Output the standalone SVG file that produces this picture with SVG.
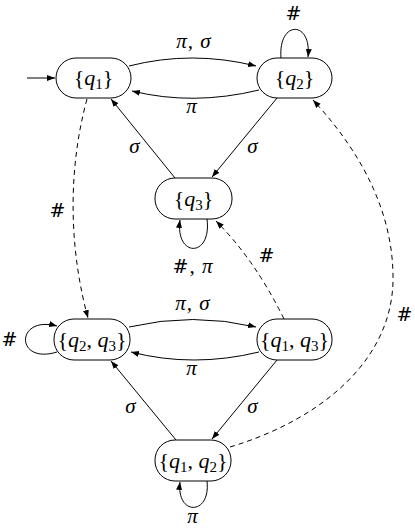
<svg xmlns="http://www.w3.org/2000/svg" width="415" height="528" viewBox="0 0 415 528">
<style>
.node rect{fill:#fff;stroke:#000;stroke-width:1}
.nt{font-family:"Liberation Serif","DejaVu Serif",serif;font-size:22px;text-anchor:middle;fill:#000}
.lb{font-family:"Liberation Serif","DejaVu Serif",serif;font-size:21px;text-anchor:middle;fill:#000;font-style:italic;letter-spacing:1px}
.h{font-family:"DejaVu Serif","Liberation Serif",serif;font-style:normal;font-size:19px}
.e{fill:none;stroke:#000;stroke-width:1;marker-end:url(#ah)}
.d{stroke-dasharray:5,4}
</style>
<defs>
<marker id="ah" markerUnits="userSpaceOnUse" markerWidth="9" markerHeight="7" refX="8" refY="3" orient="auto">
<path d="M0,0 L8,3 L0,6 z" fill="#000"/>
</marker>
</defs>
<g id="connectors">
<path class="e" d="M27,78 L55,78"/>
<path class="e" d="M129,66 Q192,50 256,66"/>
<path class="e" d="M259,90 Q193,106 132,91"/>
<path class="e" d="M281,58 C278,20 312,20 308,57"/>
<path class="e" d="M175,178 L111,99"/>
<path class="e" d="M277,98 L212,177"/>
<path class="e" d="M207,219 C212,258 175,258 180,220"/>
<path class="e d" d="M87,99 C65,180 72,260 88,318"/>
<path class="e d" d="M284,319 Q255,260 216,221"/>
<path class="e d" d="M230,447 C320,420 395,360 393,275 C392,200 350,140 313,100"/>
<path class="e" d="M129,327 Q193,312 256,327"/>
<path class="e" d="M259,352 Q193,368 131,352"/>
<path class="e" d="M57,352 C15,365 15,315 57,326"/>
<path class="e" d="M277,360 L212,439"/>
<path class="e" d="M176,440 L111,361"/>
<path class="e" d="M207,481 C211,516 176,516 180,482"/>
<text class="lb" x="194" y="48">π, σ</text>
<text class="lb" x="192" y="113">π</text>
<text class="lb h" x="294" y="20">#</text>
<text class="lb" x="135" y="153">σ</text>
<text class="lb" x="253" y="153">σ</text>
<text class="lb h" x="58" y="217">#</text>
<text class="lb" x="193" y="273"><tspan class="h">#</tspan>, π</text>
<text class="lb h" x="267" y="262">#</text>
<text class="lb h" x="405" y="321">#</text>
<text class="lb" x="193" y="310">π, σ</text>
<text class="lb" x="192" y="375">π</text>
<text class="lb h" x="10" y="346">#</text>
<text class="lb" x="131" y="413">σ</text>
<text class="lb" x="253" y="413">σ</text>
<text class="lb" x="193" y="523" font-size="19">π</text>
</g>
<g id="n_q1" class="node"><rect x="56" y="58" width="75" height="40" rx="20"/><text class="nt" x="93.5" y="85">{<tspan font-style="italic">q</tspan><tspan font-size="15" dy="4">1</tspan><tspan dy="-4">}</tspan></text></g>
<g id="n_q2" class="node"><rect x="257" y="58" width="75" height="40" rx="20"/><text class="nt" x="294.5" y="85">{<tspan font-style="italic">q</tspan><tspan font-size="15" dy="4">2</tspan><tspan dy="-4">}</tspan></text></g>
<g id="n_q3" class="node"><rect x="155" y="178" width="77" height="41" rx="20"/><text class="nt" x="193.5" y="206">{<tspan font-style="italic">q</tspan><tspan font-size="15" dy="4">3</tspan><tspan dy="-4">}</tspan></text></g>
<g id="n_q2q3" class="node"><rect x="54" y="319" width="76" height="41" rx="20"/><text class="nt" x="92" y="347">{<tspan font-style="italic">q</tspan><tspan font-size="15" dy="4">2</tspan><tspan dy="-4">, </tspan><tspan font-style="italic">q</tspan><tspan font-size="15" dy="4">3</tspan><tspan dy="-4">}</tspan></text></g>
<g id="n_q1q3" class="node"><rect x="257" y="319" width="75" height="41" rx="20"/><text class="nt" x="294.5" y="347">{<tspan font-style="italic">q</tspan><tspan font-size="15" dy="4">1</tspan><tspan dy="-4">, </tspan><tspan font-style="italic">q</tspan><tspan font-size="15" dy="4">3</tspan><tspan dy="-4">}</tspan></text></g>
<g id="n_q1q2" class="node"><rect x="155" y="440" width="76" height="41" rx="20"/><text class="nt" x="193" y="468">{<tspan font-style="italic">q</tspan><tspan font-size="15" dy="4">1</tspan><tspan dy="-4">, </tspan><tspan font-style="italic">q</tspan><tspan font-size="15" dy="4">2</tspan><tspan dy="-4">}</tspan></text></g>
</svg>
